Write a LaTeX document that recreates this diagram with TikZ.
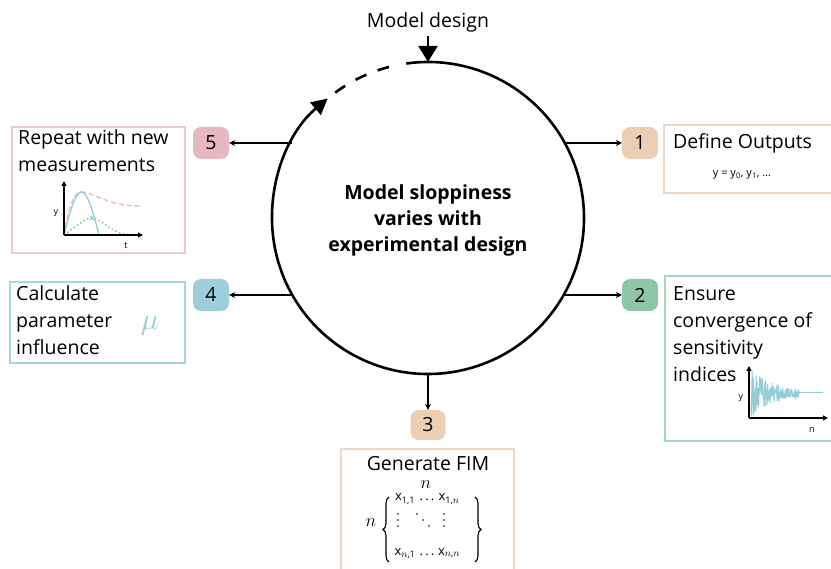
\documentclass[tikz,border=0pt]{standalone}
\usepackage{graphicx}
\usepackage{fontspec}
\setmainfont{Open Sans}
\usetikzlibrary{arrows.meta,decorations.pathreplacing,calc}
\definecolor{tanfill}{HTML}{EBCFB5}
\definecolor{tanline}{HTML}{EFD9C6}
\definecolor{greenfill}{HTML}{8DC7A6}
\definecolor{greenline}{HTML}{A3D6BA}
\definecolor{bluefill}{HTML}{9DCFDA}
\definecolor{blueline}{HTML}{A9D5DF}
\definecolor{pinkfill}{HTML}{E6B8C4}
\definecolor{pinkline}{HTML}{EDC8D0}
\definecolor{plotblue}{HTML}{96CCD8}
\definecolor{plotpink}{HTML}{EDB5C3}
\definecolor{plotgreen}{HTML}{8CC7A0}
\begin{document}
\begin{tikzpicture}[x=1pt,y=-1pt,
 badge/.style={rounded corners=8pt, minimum width=36pt, minimum height=32pt, inner sep=0pt, font=\fontsize{19.5}{22}\selectfont},
 panel/.style={line width=1.4pt},
 label/.style={font=\fontsize{19.5}{27}\selectfont, anchor=base west, align=left, inner sep=0pt},
 link/.style={line width=1.3pt, -{Stealth[length=6pt,width=6pt]}},
 ring/.style={line width=2.6pt},
 axis/.style={line width=1.5pt, -{Triangle[length=5pt,width=5pt]}},
 tiny/.style={font=\fontsize{9}{10}\selectfont, inner sep=0pt},
 fim/.style={font=\fontsize{13}{14}\selectfont, inner sep=0pt, anchor=base},
 dot/.style={fill=black, draw=none, circle, inner sep=0pt, minimum size=1.6pt}
]
\useasboundingbox (0,0) rectangle (831,569);
\clip (0,0) rectangle (831,569);

% central circle
\node[circle, minimum size=312pt, inner sep=0pt, outer sep=0pt] (C) at (428,218) {};
\node[font=\bfseries\fontsize{19.5}{26}\selectfont, align=center] (title) at (428,220) {Model sloppiness\\varies with\\experimental design};
\draw[ring, -{Triangle[length=16pt,width=16pt]}] (C.center) ++(-98:156) arc[start angle=-98, end angle=230, radius=156];
\draw[ring, dash pattern=on 12pt off 12pt] (C.center) ++(233.5:156) arc[start angle=233.5, end angle=257, radius=156];

% model design
\node[font=\fontsize{19.5}{22}\selectfont, anchor=base, inner sep=0pt] (md) at (428,28) {Model design};
\draw[line width=2pt, -{Triangle[length=16pt,width=19pt]}] (md.south) ++(0,3) -- (C.north);

% badges
\node[badge, fill=tanfill] (b1) at (640,143) {1};
\node[badge, fill=greenfill] (b2) at (640,295) {2};
\node[badge, fill=tanfill, minimum width=35pt, minimum height=30pt] (b3) at (428,425) {3};
\node[badge, fill=bluefill] (b4) at (211,295) {4};
\node[badge, fill=pinkfill] (b5) at (211,143) {5};

\coordinate (c1) at (C.28.7);
\coordinate (c2) at (C.-29.6);
\coordinate (c4) at (C.-150.4);
\coordinate (c5) at (C.151.3);
\draw[link] (c1 |- b1.west) -- (b1.west);
\draw[link] (c2 |- b2.west) -- (b2.west);
\draw[link] (C.south) -- (b3.north);
\draw[link] (c4 |- b4.east) -- (b4.east);
\draw[link] (c5 |- b5.east) -- (b5.east);

% panel 1
\draw[panel, tanline] (664,125) rectangle (845,193);
\node[label] (t1) at (673,149) {Define Outputs};
\node[font=\fontsize{11}{12}\selectfont] (f1) at (742,175) {y = y\textsubscript{0}, y\textsubscript{1}, …};

% panel 2
\draw[panel, greenline] (665,276) rectangle (845,441);
\node[label] (t2) at (673,382) {Ensure\\convergence of\\sensitivity\\indices};
\draw[axis] (749,418) -- (749,366);
\draw[axis] (749,418) -- (828,418);
\pgfmathsetseed{12}
\draw[plotblue, line width=1pt] plot[domain=0:48, samples=130] ({751+\x}, {393+25*exp(-\x/24)*rand});
\draw[plotblue, line width=1pt] (799,393) -- (823,393);
\node[tiny] (y2) at (741,398) {y};
\node[tiny] (n2) at (812,430) {n};

% panel 3
\draw[panel, tanline] (341,449) rectangle (514,590);
\node[font=\fontsize{19.5}{22}\selectfont, anchor=base, inner sep=0pt] (t3) at (428,471) {Generate FIM};
\node[fim] (nt) at (426,489) {\scalebox{1.5}{$n$}};
\node[fim] (nl) at (371,527) {\scalebox{1.5}{$n$}};
\node[fim] (x11) at (405,501) {x\textsubscript{1,1}};
\node[fim] (d1) at (427,501) {.\,.\,.};
\node[fim] (x1n) at (449,501) {x\textsubscript{1,\scalebox{1.1}{$n$}}};
\node[fim] (xn1) at (405,555) {x\textsubscript{\scalebox{1.1}{$n$},1}};
\node[fim] (d2) at (427,555) {.\,.\,.};
\node[fim] (xnn) at (449,555) {x\textsubscript{\scalebox{1.1}{$n$},\scalebox{1.1}{$n$}}};
\foreach \yy in {514,520,526} {
  \node[dot] at (398,\yy) {};
  \node[dot] at (444,\yy) {};
}
\node[dot] (dd1) at (417,514) {};
\node[dot] (dd2) at (423,520) {};
\node[dot] (dd3) at (429,526) {};
\draw[decorate, decoration={brace, amplitude=6pt}, line width=1.1pt] (389,562) -- (389,497);
\draw[decorate, decoration={brace, amplitude=6pt}, line width=1.1pt] (475,497) -- (475,562);

% panel 4
\draw[panel, blueline] (10,282) rectangle (185,363);
\node[label] (t4) at (16,355) {Calculate\\parameter\\influence};
\node[text=plotblue] (mu) at (150,326) {\scalebox{3}{$\mu$}};

% panel 5
\draw[panel, pinkline] (12,127) rectangle (185,253);
\node[label] (t5) at (18,172) {Repeat with new\\measurements};
\draw[plotpink, line width=1.3pt, dash pattern=on 5pt off 3pt] plot[smooth] coordinates {(64,235) (69,210) (75,196) (81,192) (88,193) (100,198) (115,203) (130,205.5) (141,206)};
\draw[plotgreen, line width=1.6pt, dash pattern=on 1.5pt off 2.5pt] plot[smooth] coordinates {(64,235) (75,227) (85,220) (92,218) (100,221) (110,228) (120,233) (130,235) (142,235)};
\draw[plotblue, line width=1.3pt] plot[domain=0:35, samples=40] ({64+\x}, {235-43*sin(180*\x/35)});
\draw[plotgreen, line width=0.8pt] (90,216) -- (94,220) (90,220) -- (94,216);
\draw[axis] (64,235) -- (64,181);
\draw[axis] (64,235) -- (143,235);
\node[tiny] (y5) at (56,213) {y};
\node[tiny] (tt5) at (126,246) {t};
\end{tikzpicture}
\end{document}
